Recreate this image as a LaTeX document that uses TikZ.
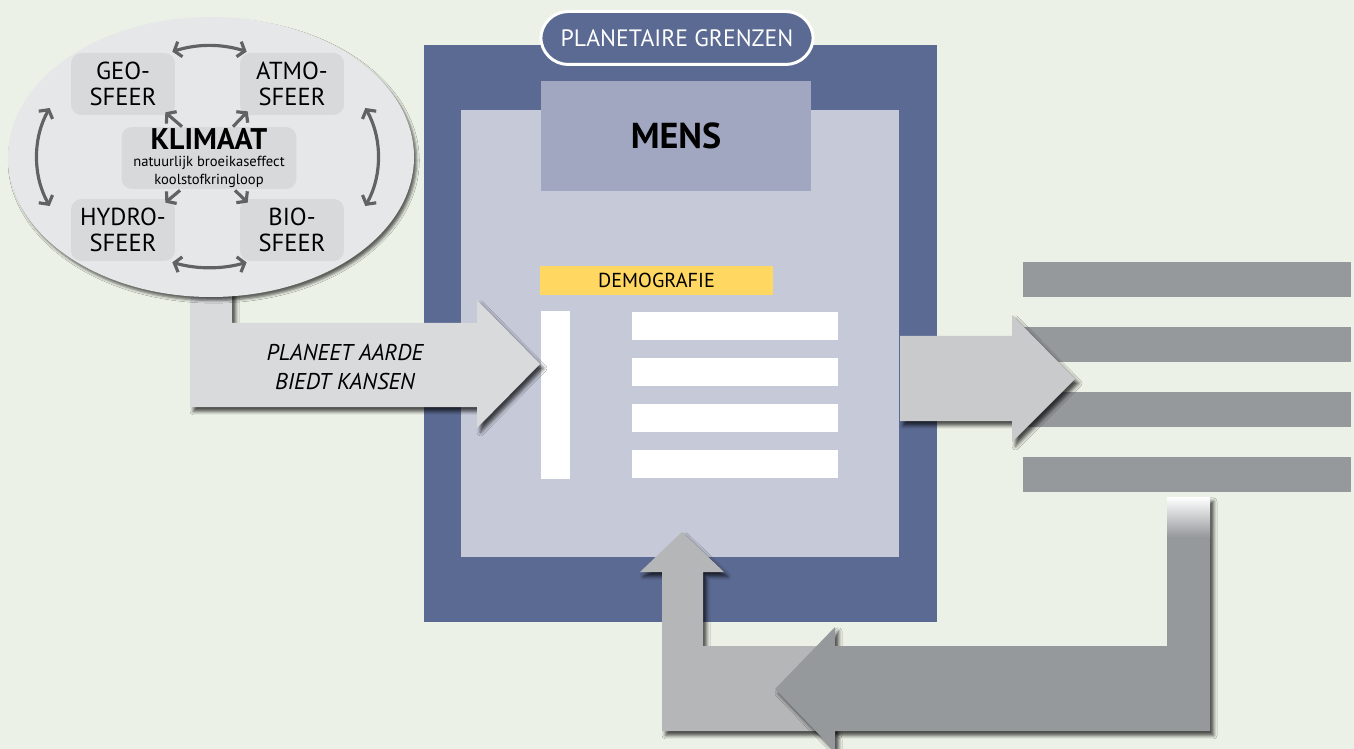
\documentclass[tikz,border=0pt]{standalone}
\usepackage{fontspec}
\setmainfont{PT Sans}
\definecolor{MeadowBg}{RGB}{235,241,230}
\definecolor{FrameBlue}{RGB}{91,106,146}
\definecolor{InnerLilac}{RGB}{197,201,216}
\definecolor{MensLilac}{RGB}{161,167,192}
\definecolor{DemoYellow}{RGB}{255,215,97}
\definecolor{PaleGrey}{RGB}{217,218,220}
\definecolor{LightGrey}{RGB}{201,202,204}
\definecolor{MidGrey}{RGB}{181,182,184}
\definecolor{SteelGrey}{RGB}{150,153,156}
\definecolor{SphereGrey}{RGB}{230,231,233}
\definecolor{BoxGrey}{RGB}{216,217,219}
\definecolor{RingGrey}{RGB}{97,98,100}
\usetikzlibrary{arrows.meta,shadows.blur}

\begin{document}
\begin{tikzpicture}[x=0.02cm, y=-0.02cm,
    sphere/.style={fill=BoxGrey, rounded corners=6pt, minimum width=2.08cm, minimum height=1.24cm,
                   inner sep=0pt, align=center, font=\fontsize{14}{15}\selectfont},
    ring/.style={draw=RingGrey, line width=1.8pt, {Straight Barb[length=3.5pt,width=9pt]}-{Straight Barb[length=3.5pt,width=9pt]}},
    spoke/.style={draw=RingGrey, line width=1.8pt, -{Straight Barb[length=3.5pt,width=9pt]}},
    block/.style={blur shadow={shadow xshift=2pt, shadow yshift=-2.5pt, shadow blur radius=2pt, shadow opacity=70}}]
  \useasboundingbox (0,0) rectangle (1354,749);
  \fill[MeadowBg] (0,0) rectangle (1354,749);

  \fill[FrameBlue] (424,45) rectangle (937,622);
  \fill[InnerLilac] (461,110) rectangle (899,557);
  \node (mens) [fill=MensLilac, minimum width=5.4cm, minimum height=2.2cm, font=\bfseries\fontsize{20.5}{22}\selectfont] at (676,136) {MENS};
  \node (limits) [fill=FrameBlue, draw=white, line width=1.7pt, rounded corners=0.55cm, minimum width=5.45cm, minimum height=1.06cm,
        text=white, font=\fontsize{13.5}{15}\selectfont] at (677,38) {PLANETAIRE GRENZEN};
  \node (demo) [fill=DemoYellow, minimum width=4.66cm, minimum height=0.58cm, font=\fontsize{11.5}{13}\selectfont] at (656.5,280.5) {DEMOGRAFIE};
  \node (pillar) [fill=white, minimum width=0.58cm, minimum height=3.36cm, inner sep=0pt] at (555.5,395) {};
  \foreach \y [count=\i] in {326,372,418,464} {
    \node (row\i) [fill=white, minimum width=4.12cm, minimum height=0.56cm, inner sep=0pt] at (735,\y) {};
  }

  \fill[PaleGrey, block] (190,280) -- (232,280) -- (232,323) -- (477,323) -- (477,300) -- (540,364) -- (477,428) -- (477,407) -- (190,407) -- cycle;
  \node (offer) [font=\itshape\fontsize{13}{17}\selectfont, align=center] at (345,367) {PLANEET AARDE\\BIEDT KANSEN};

  \fill[SphereGrey, blur shadow={shadow xshift=1.5pt, shadow yshift=-2pt, shadow blur radius=1.5pt, shadow opacity=60}]
    (211,157) ellipse [x radius=203, y radius=140];
  \node (geo) [sphere] at (123,84) {GEO-\\SFEER};
  \node (atmo) [sphere] at (292,84) {ATMO-\\SFEER};
  \node (hydro) [sphere] at (123,230) {HYDRO-\\SFEER};
  \node (bio) [sphere] at (292,230) {BIO-\\SFEER};
  \node (klimaat) [sphere, minimum width=3.5cm, font=\fontsize{8.3}{9.8}\selectfont] at (209,158)
        {{\fontsize{17}{17}\selectfont\bfseries KLIMAAT}\\natuurlijk broeikaseffect\\koolstofkringloop};

  \draw[ring] ([shift={(-3,-1)}]geo.north east) .. controls +(25,-8) and +(-25,-8) .. ([shift={(7,-1)}]atmo.north west);
  \draw[ring] ([shift={(-3,1)}]hydro.south east) .. controls +(25,7) and +(-25,7) .. ([shift={(7,1)}]bio.south west);
  \draw[ring] ([shift={(-21,24)}]geo.west) .. controls +(-17,30) and +(-17,-30) .. ([shift={(-21,-24)}]hydro.west);
  \draw[ring] ([shift={(21,24)}]atmo.east) .. controls +(17,30) and +(17,-30) .. ([shift={(21,-24)}]bio.east);
  \draw[spoke] ([shift={(-27,0)}]klimaat.north) -- ([shift={(-10,-3)}]geo.south east);
  \draw[spoke] ([shift={(24,0)}]klimaat.north) -- ([shift={(8,-4)}]atmo.south west);
  \draw[spoke] ([shift={(-29,1)}]klimaat.south) -- ([shift={(-10,4)}]hydro.north east);
  \draw[spoke] ([shift={(26,1)}]klimaat.south) -- ([shift={(8,4)}]bio.north west);

  \foreach \y [count=\i] in {279.5,344.5,409.5,474.5} {
    \node (out\i) [fill=SteelGrey, minimum width=6.56cm, minimum height=0.7cm, inner sep=0pt] at (1187,\y) {};
  }
  \fill[LightGrey, block] (900,336) -- (1012,336) -- (1012,315) -- (1075,379) -- (1012,442) -- (1012,421) -- (900,421) -- cycle;

  \fill[MidGrey, block] (662,731) -- (662,572) -- (640,572) -- (682,532) -- (724,572) -- (703,572) -- (703,646) -- (835,646) -- (835,731) -- cycle;
  \fill[SteelGrey, block] (1167,497) -- (1210,497) -- (1210,731) -- (835,731) -- (835,751) -- (775,689) -- (835,627) -- (835,646) -- (1167,646) -- cycle;
  \shade[top color=white, bottom color=SteelGrey] (1167,497) rectangle (1210,537);
\end{tikzpicture}
\end{document}
